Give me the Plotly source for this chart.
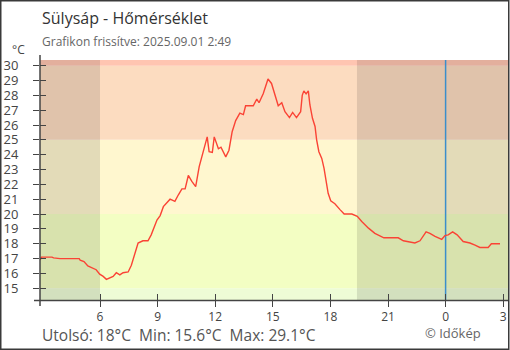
import plotly.graph_objects as go
from datetime import datetime, timedelta

# Temperature readings (local time, °C), from 02:53 on 31 Aug to 02:50 on 1 Sep
times = [
    "02:53", "02:57", "03:30", "03:35", "03:55", "04:55", "04:58", "05:10", "05:22", "05:35",
    "05:48", "05:59", "06:10", "06:20", "06:30", "06:41", "06:51", "07:02", "07:12", "07:28",
    "07:38", "07:48", "07:59", "08:14", "08:30", "08:40", "08:51", "08:58", "09:08", "09:18",
    "09:39", "09:54", "10:05", "10:16", "10:26", "10:36", "10:47", "10:59", "11:10", "11:23",
    "11:35", "11:41", "11:51", "11:57", "12:10", "12:18", "12:33", "12:43", "12:53", "13:04",
    "13:17", "13:28", "13:35", "13:59", "14:10", "14:17", "14:30", "14:42", "14:45", "14:56",
    "15:08", "15:17", "15:28", "15:38", "15:52", "16:02", "16:14", "16:27", "16:32", "16:37",
    "16:44", "16:51", "16:56", "17:04", "17:12", "17:17", "17:24", "17:33", "17:40", "17:46",
    "17:53", "18:01", "18:14", "18:30", "18:43", "19:07", "19:24", "19:38", "19:59", "20:19",
    "20:47", "21:32", "21:48", "22:24", "22:40", "22:59", "23:11", "23:27", "23:48", "23:58",
    "00:08", "00:22", "00:36", "00:55", "01:16", "01:32", "01:47", "02:13", "02:23", "02:50",
]
temps = [
    16.9, 17.1, 17.1, 17.05, 17.0, 17.0, 16.9, 16.8, 16.5, 16.4,
    16.25, 15.95, 15.8, 15.6, 15.7, 15.8, 16.05, 15.9, 16.05, 16.1,
    16.55, 17.35, 18.05, 18.2, 18.2, 18.6, 19.15, 19.6, 19.9, 20.5,
    21.0, 20.85, 21.3, 21.7, 21.7, 22.6, 22.2, 21.85, 23.2, 24.2,
    25.2, 24.2, 24.15, 25.2, 24.4, 24.5, 23.85, 24.3, 25.55, 26.3,
    26.8, 26.7, 27.3, 27.3, 27.75, 27.5, 28.1, 28.9, 29.1, 28.8,
    28.0, 27.3, 27.5, 26.9, 26.5, 26.85, 26.5, 26.9, 28.0, 28.3,
    28.1, 28.3, 27.35, 26.45, 25.9, 25.0, 24.2, 23.75, 23.1, 22.3,
    21.4, 20.9, 20.7, 20.3, 20.0, 20.0, 19.85, 19.5, 19.05, 18.7,
    18.4, 18.4, 18.2, 18.05, 18.2, 18.8, 18.7, 18.5, 18.3, 18.55,
    18.6, 18.8, 18.6, 18.15, 18.05, 17.9, 17.75, 17.75, 18.0, 18.0,
]

# Comfort bands (°C) and their colours
band_edges = [15, 20, 25, 30]
band_colors = ["#eefcd6", "#f3fec3", "#fff7cf", "#fcdcc0", "#ffc5b1"]

# Night periods (sunset -> sunrise)
night_spans = [("2025-08-31 02:52:30", "2025-08-31 06:00"),
               ("2025-08-31 19:23", "2025-09-01 03:15")]
midnight = "2025-09-01 00:00"

tick_vals = ["2025-08-31 06:00", "2025-08-31 09:00", "2025-08-31 12:00",
             "2025-08-31 15:00", "2025-08-31 18:00", "2025-08-31 21:00",
             "2025-09-01 00:00", "2025-09-01 03:00"]
tick_text = ["6", "9", "12", "15", "18", "21", "0", "3"]
y_ticks = list(range(15, 31))

x_range = ["2025-08-31 02:52:30", "2025-09-01 03:15"]
y_range = [14.21, 30.38]

# Build datetimes, rolling over to the next day when the clock wraps
day = datetime(2025, 8, 31)
stamps, prev = [], None
for t in times:
    h, m = map(int, t.split(":"))
    cur = day + timedelta(hours=h, minutes=m)
    if prev is not None and cur < prev:
        day += timedelta(days=1)
        cur += timedelta(days=1)
    stamps.append(cur)
    prev = cur

W, H = 510, 350
L, R, T, B = 40, 2, 60, 50
PW, PH = W - L - R, H - T - B
FONT = "Open Sans"


def px_x(p):
    return (p - L) / PW


def px_y(p):
    return (T + PH - p) / PH


fig = go.Figure()
fig.add_trace(go.Scatter(x=stamps, y=temps, mode="lines",
                         line=dict(color="#fa4335", width=1.4),
                         hoverinfo="skip", showlegend=False))
# invisible trace that carries the overlay axes used for inward ticks
fig.add_trace(go.Scatter(x=[stamps[0]], y=[temps[0]], mode="lines",
                         xaxis="x2", yaxis="y2", opacity=0,
                         hoverinfo="skip", showlegend=False))

shapes = []
lows = [y_range[0] - 5] + band_edges
highs = band_edges + [y_range[1] + 5]
for lo, hi, c in zip(lows, highs, band_colors):
    shapes.append(dict(type="rect", xref="paper", yref="y",
                       x0=0, x1=1, y0=max(lo, y_range[0]), y1=min(hi, y_range[1]),
                       fillcolor=c, line_width=0, layer="below"))
for a, b in night_spans:
    shapes.append(dict(type="rect", xref="x", yref="paper", x0=a, x1=b,
                       y0=0, y1=1, fillcolor="rgba(0,0,0,0.11)",
                       line_width=0, layer="below"))
shapes.append(dict(type="line", xref="x", yref="paper", x0=midnight, x1=midnight,
                   y0=0, y1=1, line=dict(color="#3b8ecb", width=1.5), layer="below"))
# axis lines, slightly overshooting the plot corner
shapes.append(dict(type="line", xref="paper", yref="paper", x0=0, x1=0,
                   y0=px_y(306), y1=px_y(55), line=dict(color="#444", width=1.5)))
shapes.append(dict(type="line", xref="paper", yref="paper", x0=px_x(34), x1=1,
                   y0=px_y(300.5), y1=px_y(300.5), line=dict(color="#444", width=1.5)))
# outer frame
shapes.append(dict(type="rect", xref="paper", yref="paper",
                   x0=px_x(0.75), x1=px_x(508.75), y0=px_y(349.25), y1=px_y(0.75),
                   line=dict(color="#3a3a3a", width=1.5), fillcolor="rgba(0,0,0,0)"))

stats = (f"Utolsó: {temps[-1]:g}°C  Min: {min(temps):g}°C  "
         f"Max: {max(temps):g}°C")
annotations = [
    dict(text="Sülysáp - Hőmérséklet", x=0, y=px_y(18), xanchor="left",
         yanchor="middle", font=dict(size=16, color="#333")),
    dict(text="Grafikon frissítve: 2025.09.01 2:49", x=0, y=px_y(41),
         xanchor="left", yanchor="middle", font=dict(size=12, color="#666")),
    dict(text="°C", x=px_x(18), y=px_y(50), xanchor="center", yanchor="middle",
         font=dict(size=12, color="#444")),
    dict(text=stats, x=0, y=px_y(334.5), xanchor="left", yanchor="middle",
         font=dict(size=15.5, color="#555")),
    dict(text="© Időkép", x=px_x(453), y=px_y(333), xanchor="center",
         yanchor="middle", font=dict(size=13, color="#666")),
]
for a in annotations:
    a.update(xref="paper", yref="paper", showarrow=False)

common_x = dict(type="date", range=x_range, tickvals=tick_vals, showgrid=False,
                zeroline=False, showline=False, ticklen=6, tickwidth=1.2,
                tickcolor="#444", fixedrange=True)
common_y = dict(range=y_range, tickvals=y_ticks, showgrid=False, zeroline=False,
                showline=False, ticklen=6, tickwidth=1.2, tickcolor="#444",
                fixedrange=True)

fig.update_layout(
    width=W, height=H,
    margin=dict(l=L, r=R, t=T, b=B, pad=0),
    paper_bgcolor="white", plot_bgcolor="white",
    font=dict(family=FONT, color="#444"),
    showlegend=False,
    xaxis=dict(**common_x, ticktext=tick_text, ticks="outside",
               tickfont=dict(size=12, color="#444")),
    yaxis=dict(**common_y, ticks="outside", ticklabelstandoff=12,
               tickfont=dict(size=13, color="#444")),
    xaxis2=dict(**common_x, overlaying="x", anchor="y", ticks="inside",
                showticklabels=False),
    yaxis2=dict(**common_y, overlaying="y", anchor="x", ticks="inside",
                showticklabels=False),
    shapes=shapes,
    annotations=annotations,
)

fig.write_html("out.html")
